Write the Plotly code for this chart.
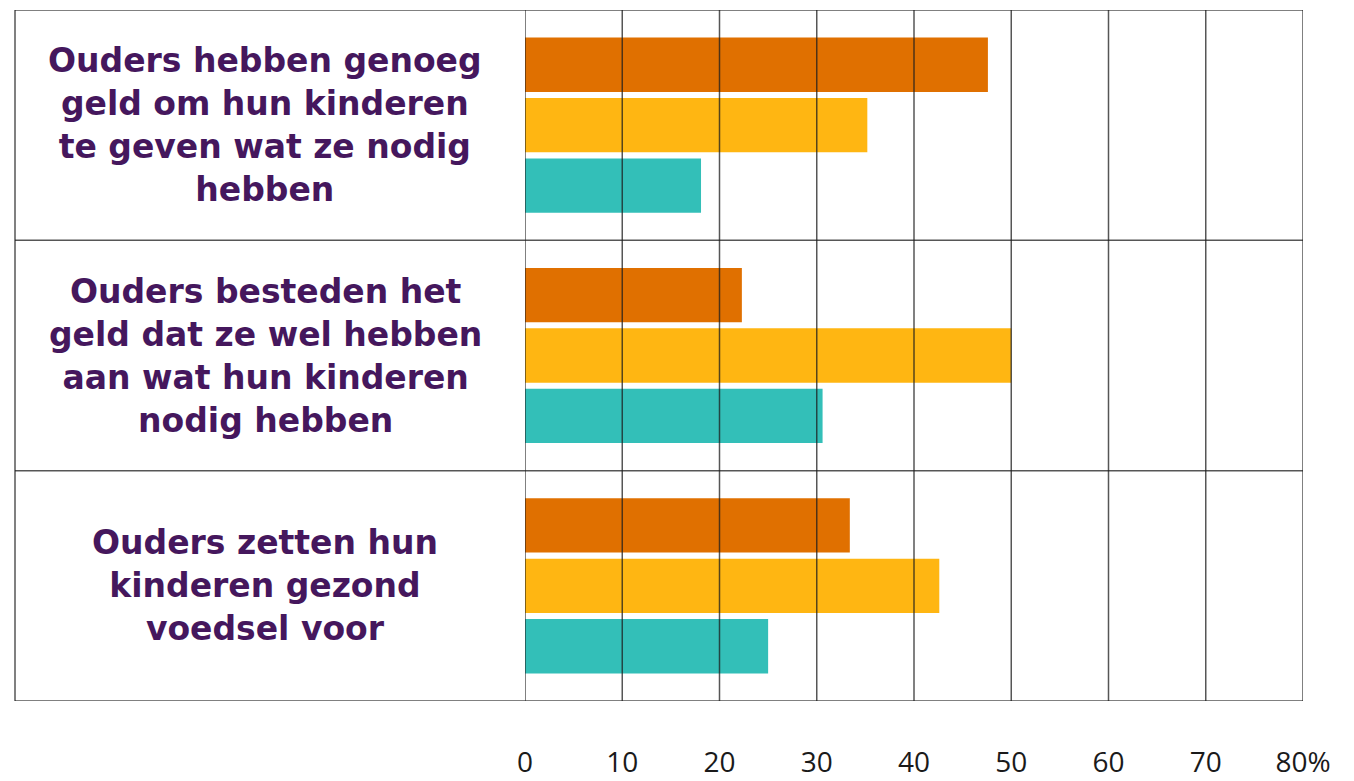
import plotly.graph_objects as go

categories = [
    ["Ouders hebben genoeg", "geld om hun kinderen", "te geven wat ze nodig", "hebben"],
    ["Ouders besteden het", "geld dat ze wel hebben", "aan wat hun kinderen", "nodig hebben"],
    ["Ouders zetten hun", "kinderen gezond", "voedsel voor"],
]
series_names = ["Reeks 1", "Reeks 2", "Reeks 3"]
series_values = [
    [47.6, 22.3, 33.4],
    [35.2, 50.0, 42.6],
    [18.1, 30.6, 25.0],
]
colors = ["#E07000", "#FFB612", "#33BFB8"]
tick_vals = [0, 10, 20, 30, 40, 50, 60, 70, 80]
tick_text = ["0", "10", "20", "30", "40", "50", "60", "70", "80%"]

ypos = list(range(len(categories)))

fig = go.Figure()
for name, vals, col in zip(series_names, series_values, colors):
    fig.add_trace(go.Bar(
        y=ypos, x=vals, name=name, orientation="h",
        marker=dict(color=col, line=dict(width=0)),
        hoverinfo="x",
    ))

L, R, T, B = 525, 51, 10, 80
W, H = 1354, 781
plot_w = W - L - R
left_paper = (15 - L) / plot_w
label_x = (265 - L) / plot_w

line_col = "rgba(30,30,30,0.75)"
shapes = []
for tv in tick_vals:
    shapes.append(dict(type="line", xref="x", yref="paper", x0=tv, x1=tv, y0=0, y1=1,
                       line=dict(color=line_col, width=1.5), layer="above"))
for b in [-0.5 + i for i in range(len(categories) + 1)]:
    shapes.append(dict(type="line", xref="paper", yref="y", x0=left_paper, x1=1, y0=b, y1=b,
                       line=dict(color=line_col, width=1.5), layer="above"))
shapes.append(dict(type="line", xref="paper", yref="paper", x0=left_paper, x1=left_paper, y0=0, y1=1,
                   line=dict(color=line_col, width=1.5), layer="above"))

annotations = []
for i, lines in enumerate(categories):
    annotations.append(dict(
        x=label_x, xref="paper", y=i, yref="y", text="<br>".join(lines), showarrow=False,
        xanchor="center", yanchor="middle", align="center",
        font=dict(family="DejaVu Sans", size=33, color="#45175D", weight="bold"),
    ))

fig.update_layout(
    width=W, height=H,
    margin=dict(l=L, r=R, t=T, b=B, pad=0, autoexpand=False),
    paper_bgcolor="white", plot_bgcolor="white",
    barmode="group", bargap=0.213, bargroupgap=0.1,
    showlegend=False,
    shapes=shapes, annotations=annotations,
    xaxis=dict(range=[0, 80], tickvals=tick_vals, ticktext=tick_text,
               showgrid=False, zeroline=False, showline=False, ticks="",
               automargin=False, ticklabelstandoff=42,
               tickfont=dict(family="Open Sans", size=28, color="#1A1A1A")),
    yaxis=dict(range=[len(categories) - 0.5, -0.5], showticklabels=False,
               automargin=False,
               showgrid=False, zeroline=False, showline=False, ticks=""),
)

fig.write_html("out.html", config={"displayModeBar": False},
               post_script="document.body.style.margin='0';document.body.style.overflow='hidden';")
